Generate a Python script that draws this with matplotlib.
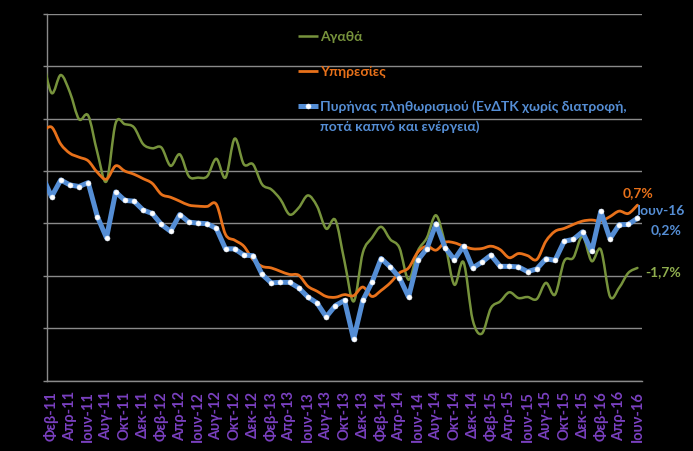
import numpy as np
import matplotlib
matplotlib.use('Agg')
import matplotlib.pyplot as plt
from matplotlib.path import Path
from matplotlib.patches import PathPatch

plt.rcParams['font.family'] = ['Lato', 'DejaVu Sans']

# Monthly values (%), Jan-11 ... Jun-16 (Jan-11 lies just left of the visible axis)
goods = [6.4, 4.98, 5.67, 5.01, 3.98, 4.12, 2.71, 1.61, 3.83, 3.79, 3.67, 3.03, 2.87, 2.90,
         2.20, 2.64, 1.80, 1.75, 1.80, 2.47, 1.75, 3.24, 2.26, 2.26, 1.49, 1.30, 0.92, 0.34,
         0.60, 1.07, 0.66, -0.20, 0.13, -1.45, -2.98, -1.12, -0.55, -0.13, -0.61, -0.93,
         -2.15, -1.06, -0.55, 0.31, -0.80, -2.34, -1.48, -3.68, -4.21, -3.23, -2.98, -2.63,
         -2.85, -2.81, -2.89, -2.27, -2.72, -1.44, -1.31, -0.49, -1.44, -1.00, -2.79, -2.46,
         -1.89, -1.7]
services = [3.5, 3.68, 3.03, 2.68, 2.53, 2.39, 1.95, 1.69, 2.20, 2.00, 1.88, 1.71, 1.53, 1.11,
            1.00, 0.85, 0.70, 0.66, 0.65, 0.73, -0.42, -0.64, -0.87, -1.38, -1.64, -1.70,
            -1.83, -1.95, -1.98, -2.40, -2.59, -2.79, -2.82, -2.72, -2.76, -2.43, -2.79, -2.56,
            -2.27, -1.89, -1.70, -1.10, -0.87, -1.02, -0.72, -0.74, -0.87, -0.97, -0.96, -0.87,
            -1.00, -1.31, -1.15, -1.23, -1.38, -0.68, -0.30, -0.19, -0.04, 0.09, 0.13, 0.09,
            0.26, 0.47, 0.38, 0.7]
core = [1.8, 1.02, 1.66, 1.47, 1.41, 1.56, 0.26, -0.55, 1.20, 0.88, 0.85, 0.51, 0.38, -0.04,
        -0.30, 0.34, 0.05, 0.01, -0.01, -0.19, -0.97, -0.97, -1.21, -1.23, -1.95, -2.27, -2.25,
        -2.25, -2.46, -2.81, -3.04, -3.57, -3.14, -2.94, -4.42, -2.94, -2.25, -1.34, -1.66,
        -2.07, -2.81, -1.41, -0.96, -0.01, -0.93, -1.38, -0.87, -1.70, -1.48, -1.21, -1.64,
        -1.64, -1.66, -1.84, -1.74, -1.35, -1.41, -0.68, -0.61, -0.32, -1.07, 0.46, -0.59,
        -0.05, -0.04, 0.2]

tick_labels = ["Φεβ-11", "Απρ-11", "Ιουν-11", "Αυγ-11", "Οκτ-11", "Δεκ-11",
               "Φεβ-12", "Απρ-12", "Ιουν-12", "Αυγ-12", "Οκτ-12", "Δεκ-12",
               "Φεβ-13", "Απρ-13", "Ιουν-13", "Αυγ-13", "Οκτ-13", "Δεκ-13",
               "Φεβ-14", "Απρ-14", "Ιουν-14", "Αυγ-14", "Οκτ-14", "Δεκ-14",
               "Φεβ-15", "Απρ-15", "Ιουν-15", "Αυγ-15", "Οκτ-15", "Δεκ-15",
               "Φεβ-16", "Απρ-16", "Ιουν-16"]

series_names = ["Αγαθά", "Υπηρεσίες",
                "Πυρήνας πληθωρισμού (ΕνΔΤΚ χωρίς διατροφή,\nποτά καπνό και ενέργεια)"]
end_labels = ["-1,7%", "0,7%", "0,2%"]
last_month = "Ιουν-16"

GREEN = '#77933C'
ORANGE = '#E8711A'
BLUE = '#558ED5'
PURPLE = '#7A40C0'
GRID = '#8a8a8a'


def smooth_path(x, y):
    P = np.column_stack([x, y]).astype(float)
    n = len(P)
    verts = [P[0]]
    codes = [Path.MOVETO]
    for i in range(n - 1):
        p0 = P[i - 1] if i > 0 else P[i]
        p3 = P[i + 2] if i + 2 < n else P[i + 1]
        c1 = P[i] + (P[i + 1] - p0) / 6.0
        c2 = P[i + 1] - (p3 - P[i]) / 6.0
        verts += [c1, c2, P[i + 1]]
        codes += [Path.CURVE4] * 3
    return Path(verts, codes)


x = np.arange(len(core)) - 1

fig = plt.figure(figsize=(6.93, 4.52), dpi=100, facecolor='black')
ax = fig.add_axes([47 / 693, 1 - 381.5 / 452, 595 / 693, 366.5 / 452])
ax.set_facecolor('black')

ax.set_xlim(-0.5, 64.5)
ax.set_ylim(-6, 8)
ax.set_yticks(np.arange(-6, 9, 2))
ax.set_yticklabels([])
ax.yaxis.grid(True, color=GRID, linewidth=1.0)
ax.set_axisbelow(True)
ax.tick_params(axis='y', length=3, color=GRID, width=1)

ax.set_xticks(np.arange(0, 65, 2))
ax.set_xticklabels(tick_labels, rotation=90, color=PURPLE, fontsize=10.5, fontweight='bold')
ax.tick_params(axis='x', length=0, pad=7)

for s in ['top', 'right']:
    ax.spines[s].set_visible(False)
for s in ['left', 'bottom']:
    ax.spines[s].set_color(GRID)
    ax.spines[s].set_linewidth(1.0)

ax.add_patch(PathPatch(smooth_path(x, goods), fill=False, ec=GREEN, lw=1.8,
                       capstyle='round', joinstyle='round', zorder=3))
ax.add_patch(PathPatch(smooth_path(x, services), fill=False, ec=ORANGE, lw=2.0,
                       capstyle='round', joinstyle='round', zorder=3))
ax.plot(x, core, color=BLUE, lw=3.6, solid_joinstyle='round', zorder=4)
ax.plot(x, core, 'o', ms=3.6, mfc='white', mec='#e6eef8', mew=0.4, zorder=5)

# legend (manual, transparent)
lx0, lx1, tx = 251 / 595, 271 / 595, 273 / 595
ys = [1 - 22 / 366.5, 1 - 57 / 366.5, 1 - 92 / 366.5]
line_gap = 20 / 366.5
cols = [GREEN, ORANGE, BLUE]
lws = [1.8, 2.0, 3.6]
for yy, c, lw, name in zip(ys, cols, lws, series_names):
    ax.plot([lx0, lx1], [yy, yy], color=c, lw=lw, transform=ax.transAxes, clip_on=False,
            solid_capstyle='butt')
    for k, part in enumerate(name.split('\n')):
        ax.text(tx, yy - k * line_gap, part, color=c, fontsize=10, fontweight='bold',
                transform=ax.transAxes, ha='left', va='center')
ax.plot([(lx0 + lx1) / 2], [ys[2]], 'o', ms=3.6, mfc='white', mec='#e6eef8', mew=0.4,
        transform=ax.transAxes, clip_on=False)

# end labels
ax.annotate(end_labels[1], xy=(x[-1], services[-1]), xytext=(1, 13), textcoords='offset pixels',
            color=ORANGE, fontsize=10, fontweight='bold', ha='center', va='center',
            annotation_clip=False)
ax.annotate(last_month, xy=(x[-1], core[-1]), xytext=(24, 8), textcoords='offset pixels',
            color=BLUE, fontsize=10, fontweight='bold', ha='center', va='center',
            annotation_clip=False)
ax.annotate(end_labels[2], xy=(x[-1], core[-1]), xytext=(29, -11), textcoords='offset pixels',
            color=BLUE, fontsize=10, fontweight='bold', ha='center', va='center',
            annotation_clip=False)
ax.annotate(end_labels[0], xy=(x[-1], goods[-1]), xytext=(26, -3), textcoords='offset pixels',
            color='#8FAE4E', fontsize=10, fontweight='bold', ha='center', va='center',
            annotation_clip=False)

fig.savefig('out.png', dpi=100, facecolor='black')
